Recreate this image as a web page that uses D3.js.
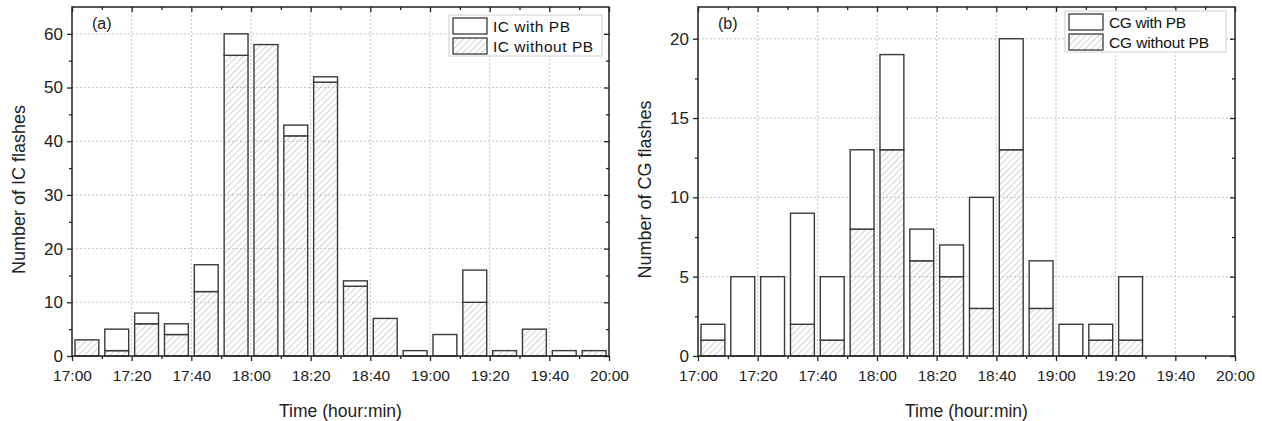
<!DOCTYPE html>
<html>
<head>
<meta charset="utf-8">
<script src="https://cdn.jsdelivr.net/npm/d3@7"></script>
<style>
  body { margin: 0; background: #fff; }
  svg { display: block; }
</style>
</head>
<body>
<div id="graph"></div>
<script>
// bin start times (10 min bins)
var bins = ["17:00","17:10","17:20","17:30","17:40","17:50","18:00","18:10","18:20",
            "18:30","18:40","18:50","19:00","19:10","19:20","19:30","19:40","19:50"];
// IC flashes
var icWithoutPB = [3, 1, 6, 4, 12, 56, 58, 41, 51, 13, 7, 0, 0, 10, 1, 5, 0, 1];
var icWithPB    = [0, 4, 2, 2, 5, 4, 0, 2, 1, 1, 0, 1, 4, 6, 0, 0, 1, 0];
// CG flashes
var cgWithoutPB = [1, 0, 0, 2, 1, 8, 13, 6, 5, 3, 13, 3, 0, 1, 1, 0, 0, 0];
var cgWithPB    = [1, 5, 5, 7, 4, 5, 6, 2, 2, 7, 7, 3, 2, 1, 4, 0, 0, 0];
var xTicks = ["17:00","17:20","17:40","18:00","18:20","18:40","19:00","19:20","19:40","20:00"];

var W = 1262, H = 421;
var svg = d3.select("div#graph").append("svg").attr("width", W).attr("height", H);

// hatch pattern
var defs = svg.append("defs");
defs.append("pattern")
  .attr("id", "hatch")
  .attr("patternUnits", "userSpaceOnUse")
  .attr("width", 4.5).attr("height", 4.5)
  .attr("patternTransform", "rotate(45)")
  .append("line")
  .attr("x1", 0).attr("y1", 0).attr("x2", 0).attr("y2", 4.5)
  .attr("stroke", "#a8a8a8").attr("stroke-width", 1);

function toMin(s) { var p = s.split(":"); return (+p[0] - 17) * 60 + (+p[1]); }
function fmt(m) { var h = 17 + Math.floor(m / 60), mm = m % 60; return h + ":" + (mm < 10 ? "0" : "") + mm; }

function styleTicks(a, size) {
  a.select(".domain").remove();
  a.selectAll("line").attr("stroke", "#222").attr("stroke-width", 1.3);
  a.selectAll("text")
    .style("font-family", "'Liberation Sans', Arial, sans-serif")
    .style("font-size", (size || 16) + "px")
    .attr("fill", "#222");
}

function panel(opt) {
  var g = svg.append("g");
  var x = d3.scaleLinear().domain([0, 180]).range([opt.left, opt.right]);
  var y = d3.scaleLinear().domain([0, opt.ymax]).range([opt.bottom, opt.top]);
  var majorX = xTicks.map(toMin);
  var minorX = d3.range(0, 181, 10).filter(function(d) { return d % 20 != 0; });
  var majorY = d3.range(0, opt.ymax + 0.01, opt.ystep);
  var minorY = d3.range(opt.ystep / 2, opt.ymax, opt.ystep);

  // grid
  g.append("g").selectAll("line.gx").data(majorX.slice(1, -1)).enter().append("line")
    .attr("x1", function(d) { return x(d); }).attr("x2", function(d) { return x(d); })
    .attr("y1", opt.top).attr("y2", opt.bottom)
    .attr("stroke", "#c4c4c4").attr("stroke-dasharray", "2,2");
  g.append("g").selectAll("line.gy").data(majorY.slice(1)).enter().append("line")
    .attr("y1", function(d) { return y(d); }).attr("y2", function(d) { return y(d); })
    .attr("x1", opt.left).attr("x2", opt.right)
    .attr("stroke", "#c4c4c4").attr("stroke-dasharray", "2,2");

  // bars
  var rows = bins.map(function(b, i) { return { t: toMin(b), without: opt.without[i], withPB: opt.withPB[i] }; });
  var stack = d3.stack().keys(["without", "withPB"])(rows);
  var bw = (x(10) - x(0)) * 0.8;
  stack.forEach(function(layer) {
    g.append("g").selectAll("rect").data(layer.filter(function(d) { return d[1] > d[0]; })).enter().append("rect")
      .attr("x", function(d) { return x(d.data.t + 5) - bw / 2; })
      .attr("width", bw)
      .attr("y", function(d) { return y(d[1]); })
      .attr("height", function(d) { return y(d[0]) - y(d[1]); })
      .attr("fill", layer.key == "without" ? "url(#hatch)" : "#fff")
      .attr("stroke", "#3a3a3a").attr("stroke-width", 1.4);
  });

  // axes
  g.append("g").attr("transform", "translate(0," + opt.bottom + ")")
    .call(d3.axisBottom(x).tickValues(majorX).tickFormat(fmt).tickSize(5).tickSizeOuter(0).tickPadding(9))
    .call(styleTicks, 15.5);
  g.append("g").attr("transform", "translate(0," + opt.bottom + ")")
    .call(d3.axisBottom(x).tickValues(minorX).tickFormat("").tickSize(3).tickSizeOuter(0))
    .call(styleTicks);
  g.append("g").attr("transform", "translate(0," + opt.top + ")")
    .call(d3.axisBottom(x).tickValues(majorX).tickFormat("").tickSize(5).tickSizeOuter(0))
    .call(styleTicks);
  g.append("g").attr("transform", "translate(0," + opt.top + ")")
    .call(d3.axisBottom(x).tickValues(minorX).tickFormat("").tickSize(3).tickSizeOuter(0))
    .call(styleTicks);

  g.append("g").attr("transform", "translate(" + opt.left + ",0)")
    .call(d3.axisLeft(y).tickValues(majorY).tickSize(5).tickSizeOuter(0).tickPadding(4))
    .call(styleTicks, 17);
  g.append("g").attr("transform", "translate(" + opt.left + ",0)")
    .call(d3.axisLeft(y).tickValues(minorY).tickFormat("").tickSize(3).tickSizeOuter(0))
    .call(styleTicks);
  g.append("g").attr("transform", "translate(" + opt.right + ",0)")
    .call(d3.axisLeft(y).tickValues(majorY).tickFormat("").tickSize(5).tickSizeOuter(0))
    .call(styleTicks);
  g.append("g").attr("transform", "translate(" + opt.right + ",0)")
    .call(d3.axisLeft(y).tickValues(minorY).tickFormat("").tickSize(3).tickSizeOuter(0))
    .call(styleTicks);

  // frame
  g.append("rect").attr("x", opt.left).attr("y", opt.top)
    .attr("width", opt.right - opt.left).attr("height", opt.bottom - opt.top)
    .attr("fill", "none").attr("stroke", "#222").attr("stroke-width", 1.5);

  // panel label
  g.append("text").attr("x", opt.left + 20).attr("y", opt.top + 22)
    .attr("font-family", "'Liberation Sans', Arial, sans-serif").attr("font-size", 16).attr("fill", "#222")
    .text(opt.label);

  // axis titles
  g.append("text").attr("x", (opt.left + opt.right) / 2).attr("y", 417)
    .attr("text-anchor", "middle")
    .attr("font-family", "'Liberation Sans', Arial, sans-serif").attr("font-size", 17.5).attr("fill", "#222")
    .text("Time (hour:min)");
  g.append("text")
    .attr("transform", "translate(" + (opt.left - 47) + "," + ((opt.top + opt.bottom) / 2 + 8) + ") rotate(-90)")
    .attr("text-anchor", "middle")
    .attr("font-family", "'Liberation Sans', Arial, sans-serif").attr("font-size", 18).attr("fill", "#222")
    .text(opt.ytitle);

  // legend
  var lg = g.append("g").attr("transform", "translate(" + opt.legX + "," + opt.legY + ")");
  lg.append("rect").attr("width", opt.legW).attr("height", 41)
    .attr("fill", "#fff").attr("stroke", "#d0d0d0").attr("stroke-width", 1);
  var items = [{ name: opt.series + " with PB", fill: "#fff" }, { name: opt.series + " without PB", fill: "url(#hatch)" }];
  items.forEach(function(it, i) {
    lg.append("rect").attr("x", 4).attr("y", 3 + i * 20).attr("width", 34).attr("height", 16)
      .attr("fill", it.fill).attr("stroke", "#3a3a3a").attr("stroke-width", 1.3);
    lg.append("text").attr("x", 44).attr("y", 17 + i * 20)
      .attr("font-family", "'Liberation Sans', Arial, sans-serif").attr("font-size", 15.5).attr("fill", "#111")
      .attr("textLength", it.name.length * 7.7).attr("lengthAdjust", "spacing")
      .text(it.name);
  });
}

panel({ left: 72, right: 609, top: 7, bottom: 356, ymax: 65, ystep: 10,
        without: icWithoutPB, withPB: icWithPB, label: "(a)", series: "IC",
        ytitle: "Number of IC flashes", legX: 449, legY: 15, legW: 153 });
panel({ left: 698, right: 1235, top: 7, bottom: 356, ymax: 22, ystep: 5,
        without: cgWithoutPB, withPB: cgWithPB, label: "(b)", series: "CG",
        ytitle: "Number of CG flashes", legX: 1065, legY: 11, legW: 161 });
</script>
</body>
</html>
